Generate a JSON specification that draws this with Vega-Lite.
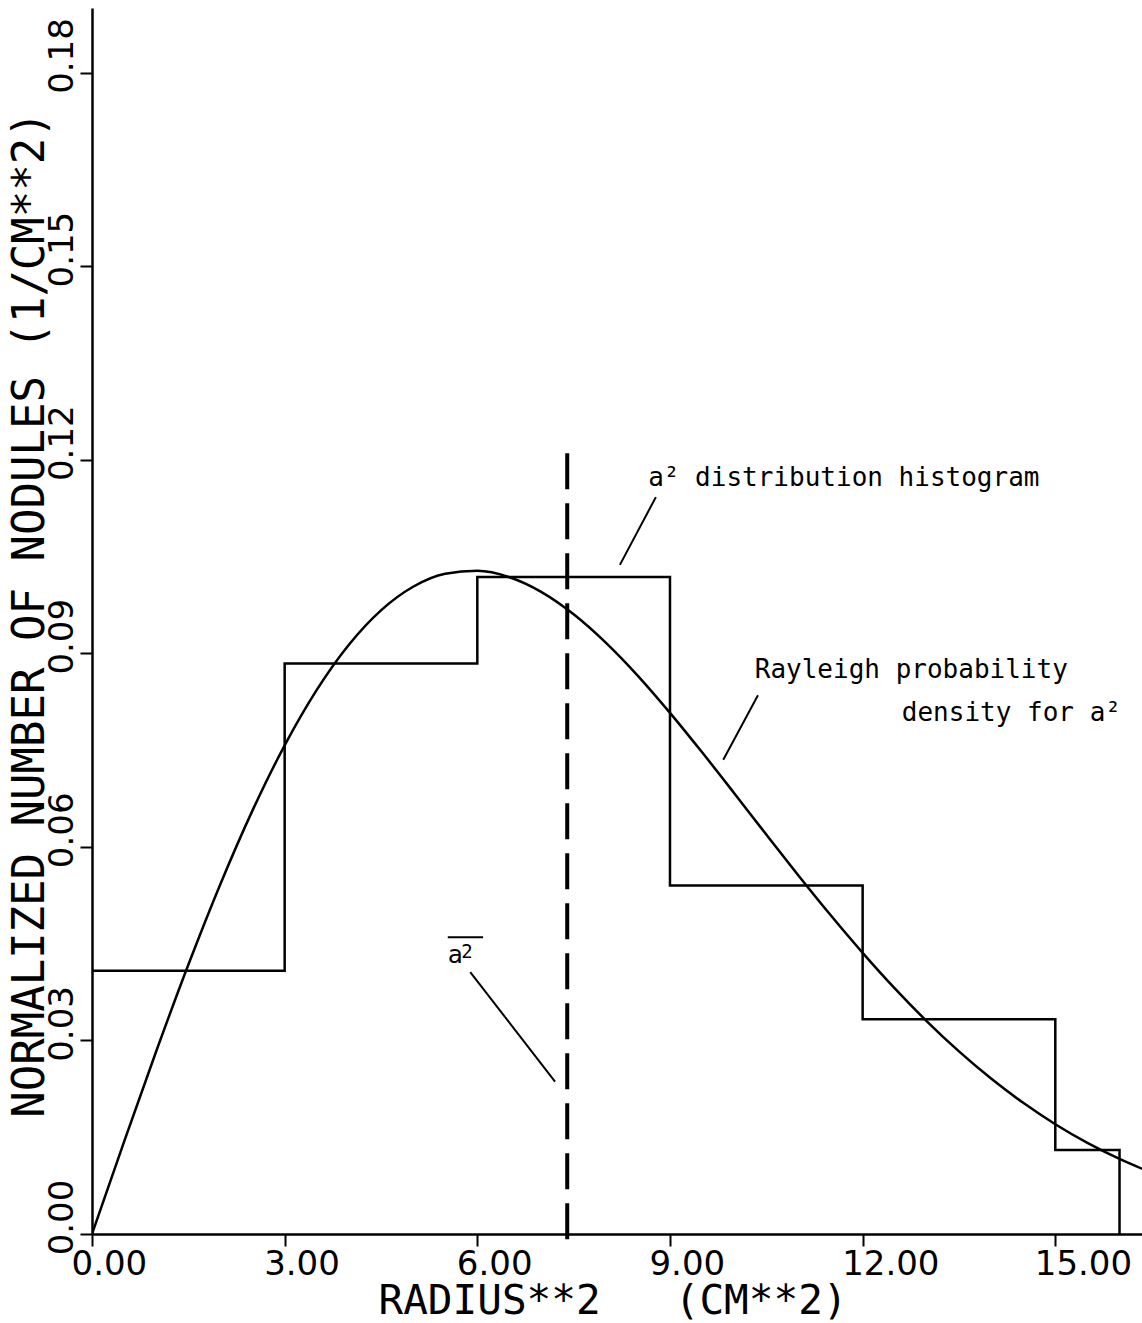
{
  "$schema": "https://vega.github.io/schema/vega-lite/v6.json",
  "width": 1050,
  "height": 1226,
  "autosize": {"type": "none"},
  "padding": {"left": 92, "top": 8, "right": 0, "bottom": 89},
  "background": "white",
  "config": {"view": {"stroke": null}, "axis": {"grid": false}},
  "datasets": {
    "curve": [
      {"r2": 0, "density": 0},
      {"r2": 0.5, "density": 0.014312},
      {"r2": 1.0, "density": 0.028317},
      {"r2": 1.5, "density": 0.041721},
      {"r2": 2.0, "density": 0.054247},
      {"r2": 2.5, "density": 0.065652},
      {"r2": 3.0, "density": 0.075731},
      {"r2": 3.5, "density": 0.084323},
      {"r2": 4.0, "density": 0.091316},
      {"r2": 4.5, "density": 0.096648},
      {"r2": 5.0, "density": 0.100305},
      {"r2": 5.5, "density": 0.102321},
      {"r2": 6.0, "density": 0.102775},
      {"r2": 6.5, "density": 0.101781},
      {"r2": 7.0, "density": 0.099483},
      {"r2": 7.5, "density": 0.096043},
      {"r2": 8.0, "density": 0.09165},
      {"r2": 8.5, "density": 0.086506},
      {"r2": 9.0, "density": 0.080767},
      {"r2": 9.5, "density": 0.074652},
      {"r2": 10.0, "density": 0.068314},
      {"r2": 10.5, "density": 0.061897},
      {"r2": 11.0, "density": 0.05557},
      {"r2": 11.5, "density": 0.049433},
      {"r2": 12.0, "density": 0.043576},
      {"r2": 12.5, "density": 0.038066},
      {"r2": 13.0, "density": 0.03296},
      {"r2": 13.5, "density": 0.028295},
      {"r2": 14.0, "density": 0.024084},
      {"r2": 14.5, "density": 0.020326},
      {"r2": 15.0, "density": 0.017015},
      {"r2": 15.5, "density": 0.014125},
      {"r2": 16.0, "density": 0.011629},
      {"r2": 16.5, "density": 0.009495}
    ],
    "hist": [
      {"r2": 0, "density": 0.0408},
      {"r2": 3, "density": 0.0884},
      {"r2": 6, "density": 0.1018},
      {"r2": 9, "density": 0.054},
      {"r2": 12, "density": 0.0333},
      {"r2": 15, "density": 0.013},
      {"r2": 16, "density": 0}
    ],
    "mean": [{"r2": 7.4, "density": 0.121, "density_end": -0.0018}],
    "leaders": [
      {"r2": 8.78, "density": 0.1142, "r2_end": 8.22, "density_end": 0.1037},
      {"r2": 10.37, "density": 0.0835, "r2_end": 9.83, "density_end": 0.0735},
      {"r2": 5.89, "density": 0.0406, "r2_end": 7.21, "density_end": 0.0236}
    ],
    "notes": [
      {"r2": 8.66, "density": 0.1159, "label": "a² distribution histogram"},
      {"r2": 10.32, "density": 0.0862, "label": "Rayleigh probability"},
      {"r2": 12.61, "density": 0.0795, "label": "density for a²"}
    ],
    "abar": [{"r2": 5.54, "density": 0.042, "label": "a"}],
    "abar2": [{"r2": 5.75, "density": 0.0428, "label": "2"}],
    "overline": [{"r2": 5.54, "density": 0.046, "r2_end": 6.09}]
  },
  "layer": [
    {
      "data": {"name": "curve"},
      "mark": {"type": "line", "interpolate": "monotone", "clip": true, "color": "black", "strokeWidth": 2.5},
      "encoding": {
        "x": {
          "field": "r2", "type": "quantitative",
          "scale": {"domain": [0, 16.35], "nice": false, "zero": false},
          "axis": {
            "title": "RADIUS**2\u00a0\u00a0\u00a0(CM**2)",
            "values": [0, 3, 6, 9, 12, 15],
            "format": ".2f",
            "domainColor": "black", "domainWidth": 2.5,
            "tickColor": "black", "tickWidth": 2, "tickSize": 12,
            "labelFont": "DejaVu Sans", "labelFontSize": 34, "labelFontWeight": "normal", "labelColor": "black",
            "labelAlign": "left", "labelBaseline": "alphabetic", "labelOffset": -21, "labelPadding": 28,
            "labelOverlap": false, "labelFlush": false,
            "titleFont": "DejaVu Sans Mono", "titleFontSize": 41, "titleFontWeight": "normal", "titleColor": "black",
            "titleAlign": "left", "titleAnchor": "start", "titleBaseline": "alphabetic",
            "titleX": 286, "titleY": 79
          }
        },
        "y": {
          "field": "density", "type": "quantitative",
          "scale": {"domain": [0, 0.19], "nice": false},
          "axis": {
            "title": "NORMALIZED NUMBER OF NODULES (1/CM**2)",
            "values": [0, 0.03, 0.06, 0.09, 0.12, 0.15, 0.18],
            "format": ".2f",
            "domainColor": "black", "domainWidth": 2.5,
            "tickColor": "black", "tickWidth": 2, "tickSize": 12,
            "labelFont": "DejaVu Sans", "labelFontSize": 34, "labelFontWeight": "normal", "labelColor": "black",
            "labelAngle": 270, "labelAlign": "center", "labelBaseline": "alphabetic", "labelOffset": -17, "labelPadding": 8,
            "labelOverlap": false, "labelFlush": false,
            "titleFont": "DejaVu Sans Mono", "titleFontSize": 44, "titleFontWeight": "normal", "titleColor": "black",
            "titleAngle": 270, "titleAlign": "center", "titleAnchor": "middle", "titleBaseline": "alphabetic",
            "titleX": -49, "titleY": 606
          }
        }
      }
    },
    {
      "data": {"name": "hist"},
      "mark": {"type": "line", "interpolate": "step-after", "color": "black", "strokeWidth": 2.5},
      "encoding": {
        "x": {"field": "r2", "type": "quantitative"},
        "y": {"field": "density", "type": "quantitative"}
      }
    },
    {
      "data": {"name": "mean"},
      "mark": {"type": "rule", "color": "black", "strokeWidth": 4, "strokeDash": [36, 14]},
      "encoding": {
        "x": {"field": "r2", "type": "quantitative"},
        "y": {"field": "density", "type": "quantitative"},
        "y2": {"field": "density_end"}
      }
    },
    {
      "data": {"name": "leaders"},
      "mark": {"type": "rule", "color": "black", "strokeWidth": 2},
      "encoding": {
        "x": {"field": "r2", "type": "quantitative"},
        "y": {"field": "density", "type": "quantitative"},
        "x2": {"field": "r2_end"},
        "y2": {"field": "density_end"}
      }
    },
    {
      "data": {"name": "overline"},
      "mark": {"type": "rule", "color": "black", "strokeWidth": 2},
      "encoding": {
        "x": {"field": "r2", "type": "quantitative"},
        "y": {"field": "density", "type": "quantitative"},
        "x2": {"field": "r2_end"}
      }
    },
    {
      "data": {"name": "notes"},
      "mark": {"type": "text", "font": "DejaVu Sans Mono", "fontSize": 26, "align": "left", "baseline": "alphabetic", "color": "black"},
      "encoding": {
        "x": {"field": "r2", "type": "quantitative"},
        "y": {"field": "density", "type": "quantitative"},
        "text": {"field": "label"}
      }
    },
    {
      "data": {"name": "abar"},
      "mark": {"type": "text", "font": "DejaVu Sans Mono", "fontSize": 25, "align": "left", "baseline": "alphabetic", "color": "black"},
      "encoding": {
        "x": {"field": "r2", "type": "quantitative"},
        "y": {"field": "density", "type": "quantitative"},
        "text": {"field": "label"}
      }
    },
    {
      "data": {"name": "abar2"},
      "mark": {"type": "text", "font": "DejaVu Sans Mono", "fontSize": 19, "align": "left", "baseline": "alphabetic", "color": "black"},
      "encoding": {
        "x": {"field": "r2", "type": "quantitative"},
        "y": {"field": "density", "type": "quantitative"},
        "text": {"field": "label"}
      }
    }
  ]
}
